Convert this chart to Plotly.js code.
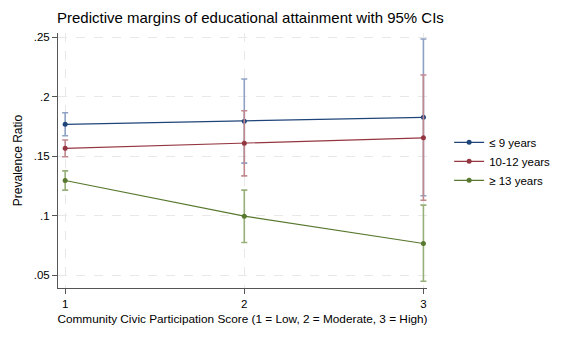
<!DOCTYPE html>
<html>
<head>
<meta charset="utf-8">
<script src="https://cdn.plot.ly/plotly-3.0.1.min.js"></script>
<style>html,body{margin:0;padding:0;background:#fff;}#chart{width:567px;height:340px;}</style>
</head>
<body>
<div id="chart"></div>
<script>
var scores = [1, 2, 3];
var seriesNames = ["\u2264 9 years", "10-12 years", "\u2265 13 years"];
var low9 = [0.1768, 0.1795, 0.1827];
var low9Lo = [0.1672, 0.1442, 0.1167];
var low9Hi = [0.1865, 0.2149, 0.2486];
var mid = [0.1566, 0.1610, 0.1655];
var midLo = [0.1495, 0.1335, 0.1130];
var midHi = [0.1636, 0.1882, 0.2183];
var high13 = [0.1296, 0.0996, 0.0766];
var high13Lo = [0.1215, 0.0774, 0.0449];
var high13Hi = [0.1377, 0.1215, 0.1089];
var yTickVals = [0.05, 0.1, 0.15, 0.2, 0.25];
var yTickText = [".05", ".1", ".15", ".2", ".25"];
var xTickVals = [1, 2, 3];
var xTickText = ["1", "2", "3"];

var colors = ["#1f4479", "#943640", "#58782f"];
var ciColors = ["#8ea1c4", "#c18890", "#97b07a"];

function mk(i, y, lo, hi) {
  return {
    x: scores, y: y, name: seriesNames[i], type: "scatter", mode: "lines+markers",
    line: {color: colors[i], width: 1.2},
    marker: {color: colors[i], size: 5},
    error_y: {
      type: "data", symmetric: false,
      array: hi.map(function(v, k){ return v - y[k]; }),
      arrayminus: lo.map(function(v, k){ return y[k] - v; }),
      color: ciColors[i], thickness: 1.6, width: 3
    }
  };
}

var data = [mk(0, low9, low9Lo, low9Hi), mk(1, mid, midLo, midHi), mk(2, high13, high13Lo, high13Hi)];

var font = "Liberation Sans, Arial, Helvetica, sans-serif";
var layout = {
  width: 567, height: 340,
  paper_bgcolor: "#fff", plot_bgcolor: "#fff",
  margin: {l: 58, r: 136, t: 33, b: 52},
  font: {family: font, color: "#000", size: 11},
  title: {text: "Predictive margins of educational attainment with 95% CIs",
          x: 57/567, xanchor: "left", y: 1 - 18/340, yanchor: "middle",
          font: {family: font, size: 15, color: "#000"}},
  xaxis: {
    range: [0.96, 3.02], tickvals: xTickVals, ticktext: xTickText,
    showline: true, linecolor: "#555", linewidth: 1,
    ticks: "outside", ticklen: 5, tickcolor: "#555",
    showgrid: true, gridcolor: "#e8e8e8", griddash: "dash", gridwidth: 1,
    zeroline: false, tickfont: {size: 11.5},
    title: {text: "Community Civic Participation Score (1 = Low, 2 = Moderate, 3 = High)",
            font: {size: 11.8}, standoff: 5}
  },
  yaxis: {
    range: [0.0392, 0.2536], tickvals: yTickVals, ticktext: yTickText,
    showline: true, linecolor: "#555", linewidth: 1,
    ticks: "outside", ticklen: 5, tickcolor: "#555",
    showgrid: true, gridcolor: "#e8e8e8", griddash: "dash", gridwidth: 1,
    zeroline: false, tickfont: {size: 11.5},
    title: {text: "Prevalence Ratio", font: {size: 12}, standoff: 8}
  },
  showlegend: true,
  legend: {x: 1.06, xanchor: "left", y: 0.628, yanchor: "top",
           font: {size: 11.5}, bgcolor: "rgba(0,0,0,0)", tracegroupgap: 0, itemwidth: 30}
};

Plotly.newPlot("chart", data, layout, {displayModeBar: false, staticPlot: true});
</script>
</body>
</html>
